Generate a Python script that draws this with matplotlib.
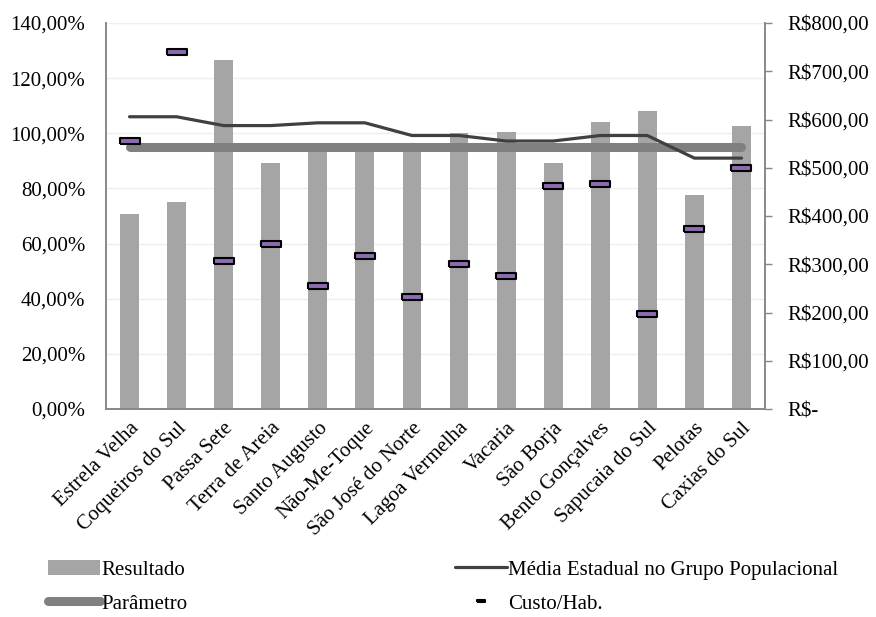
import matplotlib

matplotlib.use("Agg")
import matplotlib.pyplot as plt
import numpy as np
from matplotlib.ticker import FuncFormatter

plt.rcParams["font.family"] = ["Liberation Serif", "DejaVu Serif"]

MUNICIPIOS = [
    "Estrela Velha", "Coqueiros do Sul", "Passa Sete", "Terra de Areia",
    "Santo Augusto", "Não-Me-Toque", "São José do Norte", "Lagoa Vermelha",
    "Vacaria", "São Borja", "Bento Gonçalves", "Sapucaia do Sul",
    "Pelotas", "Caxias do Sul",
]
# Resultado (% , eixo esquerdo)
RESULTADO = [70.7, 75.0, 126.5, 89.2, 95.0, 93.2, 95.0, 100.0, 100.4, 89.2,
             104.0, 108.1, 77.6, 102.6]
# Média estadual no grupo populacional (%, eixo esquerdo)
MEDIA = [106.0, 106.0, 102.8, 102.8, 103.8, 103.8, 99.2, 99.2, 97.2, 97.2,
         99.2, 99.2, 91.0, 91.0]
PARAMETRO = [95.0] * 14
# Custo por habitante (R$, eixo direito)
CUSTO = [555, 740, 307, 343, 255, 317, 232, 300, 276, 463, 467, 197, 373, 500]

x = np.arange(len(MUNICIPIOS))

fig = plt.figure(figsize=(8.76, 6.17), dpi=100)
ax = fig.add_axes([0.121, 0.3371, 0.7523, 0.6256])
ax2 = ax.twinx()

ax.bar(x, RESULTADO, width=0.4, color="#a5a5a5", label="Resultado", zorder=2)
ax.plot(x, PARAMETRO, color="#808080", lw=6.5, solid_capstyle="round",
        label="Parâmetro", zorder=3)
ax.plot(x, MEDIA, color="#404040", lw=2.3, solid_capstyle="round",
        label="Média Estadual no Grupo Populacional", zorder=4)

rect = [(-1, -0.28), (1, -0.28), (1, 0.28), (-1, 0.28), (-1, -0.28)]
ax2.plot(x, CUSTO, ls="none", marker=rect, ms=14, mfc="#8c6bb1", mec="black",
         mew=1.5, label="Custo/Hab.", zorder=5)

ax.set_xlim(-0.5, len(MUNICIPIOS) - 0.5)
ax.set_ylim(0, 140)
ax.set_yticks(np.arange(0, 141, 20))
ax.yaxis.set_major_formatter(FuncFormatter(lambda v, _: f"{v:.2f}".replace(".", ",") + "%"))
ax2.set_ylim(0, 800)
ax2.set_yticks(np.arange(0, 801, 100))
ax2.yaxis.set_major_formatter(
    FuncFormatter(lambda v, _: "R$-" if v == 0 else f"R${v:.2f}".replace(".", ",")))

ax.set_xticks(x)
ax.set_xticklabels(MUNICIPIOS, rotation=45, ha="right", rotation_mode="anchor", fontsize=15)
ax.tick_params(axis="x", length=0, pad=7)
ax.tick_params(axis="y", length=0, pad=15, labelsize=15)
ax2.tick_params(axis="y", length=5, width=1, color="#888888", pad=11, labelsize=15)

ax.grid(axis="y", color="#eeeeee", lw=1, zorder=0)
ax.set_axisbelow(True)
for a in (ax, ax2):
    a.spines["top"].set_visible(False)
    for s in ("left", "right", "bottom"):
        a.spines[s].set_color("#888888")
        a.spines[s].set_linewidth(1.2)
ax.patch.set_visible(False)
ax2.patch.set_visible(False)
# custo markers stay on top of the left-axis artists
ax2.set_zorder(ax.get_zorder() + 1)

h1, l1 = ax.get_legend_handles_labels()
h2, l2 = ax2.get_legend_handles_labels()
handles = {lab: h for h, lab in zip(h1 + h2, l1 + l2)}
order = ["Resultado", "Parâmetro", "Média Estadual no Grupo Populacional", "Custo/Hab."]
fig.legend([handles[k] for k in order], order, ncol=2, loc="upper left",
           bbox_to_anchor=(0.045, 0.106), frameon=False, fontsize=15,
           handlelength=2.5, handletextpad=0.05, columnspacing=12.85,
           labelspacing=0.7, markerscale=0.45, borderaxespad=0)

fig.savefig("out.png", dpi=100)
